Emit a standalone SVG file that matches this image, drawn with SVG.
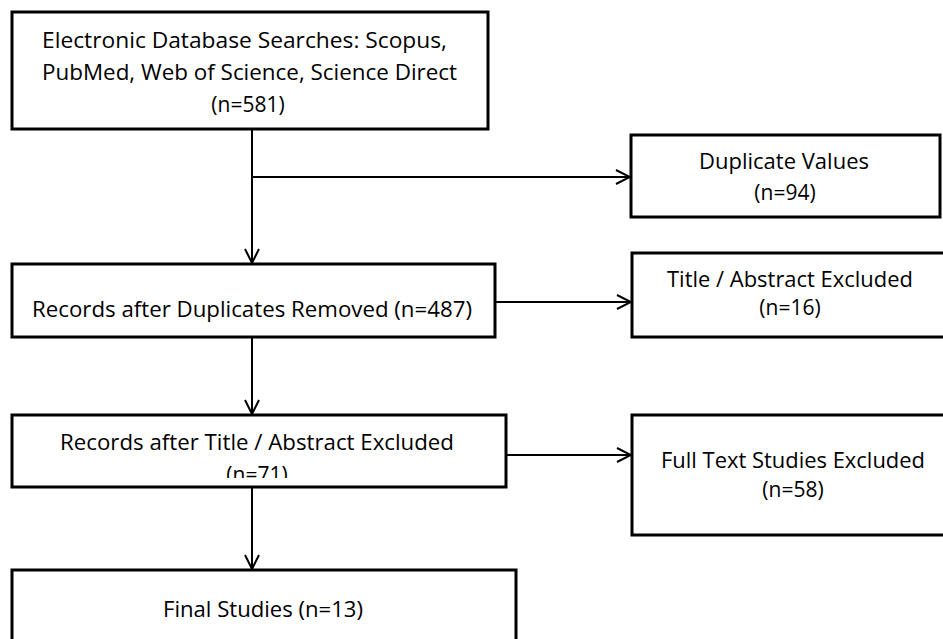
<svg xmlns="http://www.w3.org/2000/svg" width="943" height="639" viewBox="0 0 943 639">
<defs>
<style>
.box{fill:#fff;stroke:#000;stroke-width:3}
.t{font-family:"Open Sans","Noto Sans","Liberation Sans",sans-serif;font-size:21px;fill:#000;text-anchor:middle}
.c{fill:none;stroke:#000;stroke-width:2}
</style>
<marker id="ah" viewBox="0 0 16 16" refX="15" refY="8" markerWidth="16" markerHeight="16" markerUnits="userSpaceOnUse" orient="auto">
<path d="M1,1 L15,8 L1,15" fill="none" stroke="#000" stroke-width="2"/>
</marker>
<clipPath id="clip71"><rect x="12" y="415" width="494" height="63"/></clipPath>
</defs>
<rect width="943" height="639" fill="#fff"/>
<g id="connectors">
<line class="c" x1="252" y1="129" x2="252" y2="263" marker-end="url(#ah)"/>
<line class="c" x1="252" y1="177" x2="630" y2="177" marker-end="url(#ah)"/>
<line class="c" x1="495" y1="302" x2="631" y2="302" marker-end="url(#ah)"/>
<line class="c" x1="252" y1="337" x2="252" y2="414" marker-end="url(#ah)"/>
<line class="c" x1="506" y1="455" x2="631" y2="455" marker-end="url(#ah)"/>
<line class="c" x1="252" y1="487" x2="252" y2="569" marker-end="url(#ah)"/>
</g>
<g id="search">
<rect class="box" x="12" y="12" width="476" height="117"/>
<text class="t" x="244.5" y="48" textLength="405" lengthAdjust="spacingAndGlyphs">Electronic Database Searches: Scopus,</text>
<text class="t" x="249.5" y="80" textLength="415" lengthAdjust="spacingAndGlyphs">PubMed, Web of Science, Science Direct</text>
<text class="t" x="248" y="112">(n=581)</text>
</g>
<g id="duplicates">
<rect class="box" x="631" y="135" width="309" height="82"/>
<text class="t" x="784" y="169" textLength="170" lengthAdjust="spacingAndGlyphs">Duplicate Values</text>
<text class="t" x="785" y="200">(n=94)</text>
</g>
<g id="records">
<rect class="box" x="12" y="264" width="483" height="73"/>
<text class="t" x="252" y="317" textLength="440" lengthAdjust="spacingAndGlyphs">Records after Duplicates Removed (n=487)</text>
</g>
<g id="titleabstract">
<rect class="box" x="632" y="253" width="320" height="84"/>
<text class="t" x="790" y="287" textLength="246" lengthAdjust="spacingAndGlyphs">Title / Abstract Excluded</text>
<text class="t" x="790" y="315">(n=16)</text>
</g>
<g id="records2">
<rect class="box" x="12" y="415" width="494" height="72"/>
<text class="t" x="257" y="450" textLength="394" lengthAdjust="spacingAndGlyphs">Records after Title / Abstract Excluded</text>
<text class="t" x="257" y="482" clip-path="url(#clip71)">(n=71)</text>
</g>
<g id="fulltext">
<rect class="box" x="632" y="415" width="320" height="120"/>
<text class="t" x="793" y="468" textLength="264" lengthAdjust="spacingAndGlyphs">Full Text Studies Excluded</text>
<text class="t" x="793" y="497">(n=58)</text>
</g>
<g id="final">
<rect class="box" x="12" y="570" width="504" height="90"/>
<text class="t" x="263" y="617" textLength="200" lengthAdjust="spacingAndGlyphs">Final Studies (n=13)</text>
</g>
</svg>
